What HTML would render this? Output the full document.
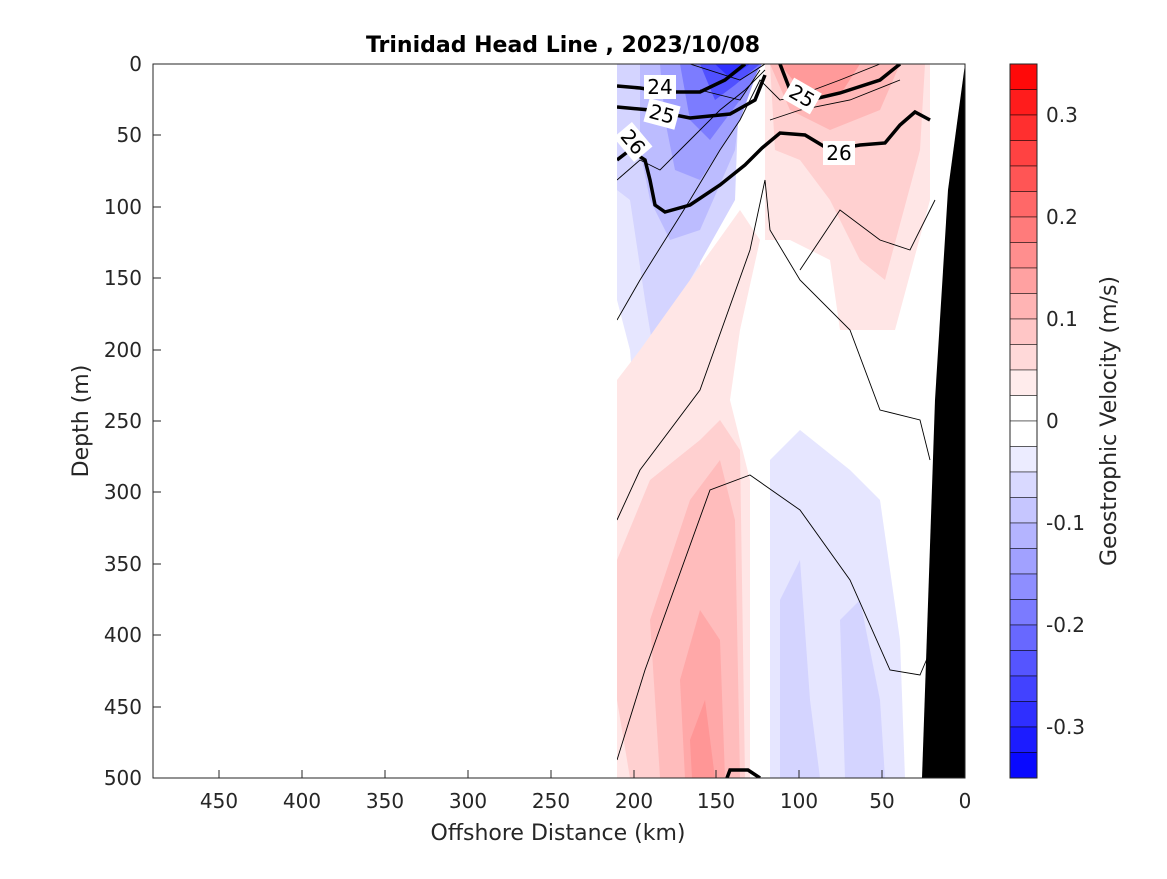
<!DOCTYPE html>
<html><head><meta charset="utf-8"><style>
body{margin:0;background:#fff;font-family:"DejaVu Sans","Liberation Sans",sans-serif;}
</style></head><body>
<svg width="1167" height="875" viewBox="0 0 1167 875" xmlns="http://www.w3.org/2000/svg" font-family="DejaVu Sans, Liberation Sans, sans-serif">
<rect width="1167" height="875" fill="#fff"/>
<defs><clipPath id="c"><rect x="617" y="64" width="348" height="714"/></clipPath></defs>
<g clip-path="url(#c)">
<path d="M617,64 L700,64 L700,300 L660,460 L640,470 L630,350 L617,300 Z" fill="#e6e6ff"/>
<path d="M617,64 L740,64 L735,200 L690,280 L660,390 L645,300 L630,200 L617,190 Z" fill="#d4d4ff"/>
<path d="M640,64 L745,64 L735,150 L700,230 L670,240 L650,200 L640,150 Z" fill="#bcbcff"/>
<path d="M660,64 L760,64 L740,120 L700,180 L675,170 L665,120 Z" fill="#a0a0ff"/>
<path d="M680,64 L762,64 L740,100 L710,140 L690,120 Z" fill="#7c7cff"/>
<path d="M700,64 L760,64 L735,85 L715,100 Z" fill="#5050ff"/>
<path d="M715,64 L750,64 L730,78 Z" fill="#3030ff"/>
<path d="M765,64 L930,64 L930,200 L895,330 L840,330 L830,260 L790,240 L765,240 Z" fill="#ffe6e6"/>
<path d="M770,64 L925,64 L920,150 L885,280 L860,260 L830,200 L800,160 L775,150 Z" fill="#ffd0d0"/>
<path d="M770,64 L900,64 L880,110 L830,130 L790,110 Z" fill="#ffb8b8"/>
<path d="M780,64 L860,64 L840,95 L805,95 Z" fill="#ff9a9a"/>
<path d="M617,380 L640,350 L690,280 L740,210 L760,240 L740,330 L730,400 L750,480 L760,778 L617,778 Z" fill="#ffe6e6"/>
<path d="M617,560 L650,480 L700,440 L720,420 L740,450 L745,778 L630,778 L617,700 Z" fill="#ffd0d0"/>
<path d="M650,620 L690,500 L720,460 L735,520 L740,778 L660,778 Z" fill="#ffbcbc"/>
<path d="M680,680 L700,610 L720,640 L725,778 L685,778 Z" fill="#ffa8a8"/>
<path d="M690,740 L705,700 L715,778 L692,778 Z" fill="#ff9696"/>
<path d="M750,440 L770,460 L770,778 L750,778 Z" fill="#fff"/>
<path d="M770,460 L800,430 L850,470 L880,500 L900,640 L905,778 L770,778 Z" fill="#e6e6ff"/>
<path d="M780,600 L800,560 L810,700 L820,778 L780,778 Z" fill="#d4d4ff"/>
<path d="M840,620 L860,600 L880,700 L885,778 L845,778 Z" fill="#d4d4ff"/>
<g fill="none" stroke="#000" stroke-width="0.9">
<path d="M617,320 L640,280 L690,200 L720,150 L740,120 L760,80 L780,100 L800,95 L840,80 L880,64"/>
<path d="M617,180 L640,160 L660,170 L690,140 L720,110 L745,90 L765,70"/>
<path d="M617,520 L640,470 L700,390 L750,250 L765,180 L770,230 L800,280 L850,330 L880,410 L920,420 L930,460"/>
<path d="M617,760 L645,670 L710,490 L750,475 L800,510 L850,580 L890,670 L920,675 L935,640"/>
<path d="M617,60 L690,64 L740,80 L765,64"/>
<path d="M700,90 L740,100 L760,70"/>
<path d="M770,120 L800,110 L850,100 L900,80"/>
<path d="M800,270 L840,210 L880,240 L910,250 L935,200"/>
</g>
<g fill="none" stroke="#000" stroke-width="3.5">
<path d="M617,86 L640,88 L665,92 L700,92 L725,80 L745,64"/>
<path d="M617,107 L650,110 L690,118 L730,114 L755,100 L765,75"/>
<path d="M617,160 L630,150 L645,160 L650,180 L655,205 L665,212 L690,205 L720,185 L745,165 L762,148 L780,133 L805,135 L830,150 L860,145 L885,143 L900,125 L915,112 L930,120"/>
<path d="M780,64 L790,90 L810,100 L840,93 L880,80 L900,64"/>
<path d="M727,778 L730,770 L748,770 L760,778"/>
</g>
<g font-size="20" text-anchor="middle">
<rect x="644" y="75" width="32" height="24" fill="#fff"/><text x="660" y="94">24</text>
<rect x="646" y="102" width="32" height="24" fill="#fff" transform="rotate(15 662 114)"/><text x="662" y="121" transform="rotate(15 662 114)">25</text>
<rect x="617" y="130" width="32" height="24" fill="#fff" transform="rotate(50 633 142)"/><text x="633" y="149" transform="rotate(50 633 142)">26</text>
<rect x="786" y="84" width="32" height="24" fill="#fff" transform="rotate(30 802 96)"/><text x="802" y="103" transform="rotate(30 802 96)">25</text>
<rect x="823" y="141" width="32" height="24" fill="#fff"/><text x="839" y="160">26</text>
</g>
<path d="M965,64 L948,190 L935,400 L922,778 L965,778 Z" fill="#000"/>
</g>
<rect x="153" y="64" width="812" height="714" fill="none" stroke="#262626" stroke-width="1"/>
<g stroke="#262626" stroke-width="1">
<line x1="219" y1="778" x2="219" y2="770"/><line x1="302" y1="778" x2="302" y2="770"/><line x1="385" y1="778" x2="385" y2="770"/><line x1="468" y1="778" x2="468" y2="770"/><line x1="551" y1="778" x2="551" y2="770"/><line x1="634" y1="778" x2="634" y2="770"/><line x1="716" y1="778" x2="716" y2="770"/><line x1="799" y1="778" x2="799" y2="770"/><line x1="882" y1="778" x2="882" y2="770"/>
<line x1="153" y1="135" x2="161" y2="135"/><line x1="153" y1="207" x2="161" y2="207"/><line x1="153" y1="278" x2="161" y2="278"/><line x1="153" y1="350" x2="161" y2="350"/><line x1="153" y1="421" x2="161" y2="421"/><line x1="153" y1="492" x2="161" y2="492"/><line x1="153" y1="564" x2="161" y2="564"/><line x1="153" y1="635" x2="161" y2="635"/><line x1="153" y1="707" x2="161" y2="707"/>
</g>
<g font-size="20" fill="#262626" text-anchor="middle">
<text x="219" y="808">450</text><text x="302" y="808">400</text><text x="385" y="808">350</text><text x="468" y="808">300</text><text x="551" y="808">250</text><text x="634" y="808">200</text><text x="716" y="808">150</text><text x="799" y="808">100</text><text x="882" y="808">50</text><text x="965" y="808">0</text>
</g>
<g font-size="20" fill="#262626" text-anchor="end">
<text x="142" y="71">0</text><text x="142" y="142">50</text><text x="142" y="214">100</text><text x="142" y="285">150</text><text x="142" y="357">200</text><text x="142" y="428">250</text><text x="142" y="499">300</text><text x="142" y="571">350</text><text x="142" y="642">400</text><text x="142" y="714">450</text><text x="142" y="785">500</text>
</g>
<text x="558" y="840" font-size="22" fill="#262626" text-anchor="middle">Offshore Distance (km)</text>
<text x="88" y="421" font-size="22" fill="#262626" text-anchor="middle" transform="rotate(-90 88 421)">Depth (m)</text>
<text x="563" y="52" font-size="22" font-weight="bold" text-anchor="middle">Trinidad Head Line , 2023/10/08</text>
<g stroke="#000" stroke-width="0.5">
<rect x="1010" y="64" width="27" height="25.5" fill="rgb(255,9,9)"/>
<rect x="1010" y="89.5" width="27" height="25.5" fill="rgb(255,28,28)"/>
<rect x="1010" y="115" width="27" height="25.5" fill="rgb(255,47,47)"/>
<rect x="1010" y="140.5" width="27" height="25.5" fill="rgb(255,66,66)"/>
<rect x="1010" y="166" width="27" height="25.5" fill="rgb(255,85,85)"/>
<rect x="1010" y="191.5" width="27" height="25.5" fill="rgb(255,104,104)"/>
<rect x="1010" y="217" width="27" height="25.5" fill="rgb(255,123,123)"/>
<rect x="1010" y="242.5" width="27" height="25.5" fill="rgb(255,142,142)"/>
<rect x="1010" y="268" width="27" height="25.5" fill="rgb(255,161,161)"/>
<rect x="1010" y="293.5" width="27" height="25.5" fill="rgb(255,180,180)"/>
<rect x="1010" y="319" width="27" height="25.5" fill="rgb(255,198,198)"/>
<rect x="1010" y="344.5" width="27" height="25.5" fill="rgb(255,217,217)"/>
<rect x="1010" y="370" width="27" height="25.5" fill="rgb(255,236,236)"/>
<rect x="1010" y="395.5" width="27" height="25.5" fill="#fff"/>
<rect x="1010" y="421" width="27" height="25.5" fill="#fff"/>
<rect x="1010" y="446.5" width="27" height="25.5" fill="rgb(236,236,255)"/>
<rect x="1010" y="472" width="27" height="25.5" fill="rgb(217,217,255)"/>
<rect x="1010" y="497.5" width="27" height="25.5" fill="rgb(198,198,255)"/>
<rect x="1010" y="523" width="27" height="25.5" fill="rgb(180,180,255)"/>
<rect x="1010" y="548.5" width="27" height="25.5" fill="rgb(161,161,255)"/>
<rect x="1010" y="574" width="27" height="25.5" fill="rgb(142,142,255)"/>
<rect x="1010" y="599.5" width="27" height="25.5" fill="rgb(123,123,255)"/>
<rect x="1010" y="625" width="27" height="25.5" fill="rgb(104,104,255)"/>
<rect x="1010" y="650.5" width="27" height="25.5" fill="rgb(85,85,255)"/>
<rect x="1010" y="676" width="27" height="25.5" fill="rgb(66,66,255)"/>
<rect x="1010" y="701.5" width="27" height="25.5" fill="rgb(47,47,255)"/>
<rect x="1010" y="727" width="27" height="25.5" fill="rgb(28,28,255)"/>
<rect x="1010" y="752.5" width="27" height="25.5" fill="rgb(9,9,255)"/>
</g>
<rect x="1010" y="64" width="27" height="714" fill="none" stroke="#262626"/>
<g font-size="20" fill="#262626">
<text x="1046" y="122">0.3</text><text x="1046" y="224">0.2</text><text x="1046" y="326">0.1</text><text x="1046" y="428">0</text><text x="1046" y="530">-0.1</text><text x="1046" y="632">-0.2</text><text x="1046" y="734">-0.3</text>
</g>
<text x="1116" y="421" font-size="22" fill="#262626" text-anchor="middle" transform="rotate(-90 1116 421)">Geostrophic Velocity (m/s)</text>
</svg>
</body></html>
